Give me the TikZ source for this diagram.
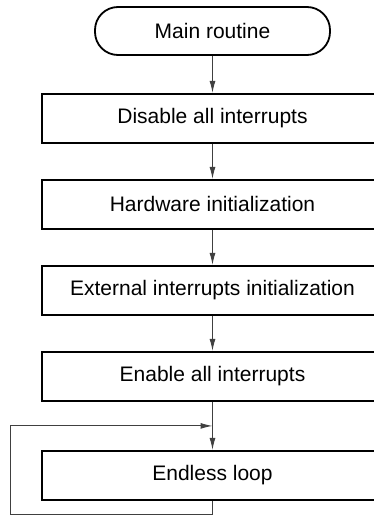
\documentclass[tikz,border=0pt]{standalone}
\usepackage{fontspec}
\setmainfont{Liberation Sans}
\usetikzlibrary{positioning,arrows.meta}

\begin{document}
\begin{tikzpicture}[x=1pt,y=1pt,node distance=35pt,
  flow/.style={-{Latex[length=12pt,width=6pt]},line width=1pt,black!75},
  procbox/.style={rectangle,draw,line width=2pt,
    font=\fontsize{21}{25}\selectfont,minimum height=49pt,minimum width=342pt},
  startbox/.style={rectangle,draw,line width=1.8pt,rounded corners=23pt,
    font=\fontsize{21}{25}\selectfont,minimum height=48pt,minimum width=235pt}]

  \useasboundingbox (0,0) rectangle (374,-516);
  \clip (0,0) rectangle (374,-516);

  \node[startbox] (main) at (212.5,-31) {Main routine};
  \node[procbox] (disable) [below=37pt of main] {Disable all interrupts};
  \node[procbox] (hwinit) [below=of disable] {Hardware initialization};
  \node[procbox] (extinit) [below=of hwinit] {External interrupts initialization};
  \node[procbox] (enable) [below=of extinit] {Enable all interrupts};
  \node[procbox] (endless) [below=48pt of enable] {Endless loop};

  \coordinate (join) at ([yshift=-24pt]enable.south);
  \coordinate (corner) at (10,-514);

  \draw[flow] (main) -- (disable);
  \draw[flow] (disable) -- (hwinit);
  \draw[flow] (hwinit) -- (extinit);
  \draw[flow] (extinit) -- (enable);
  \draw[flow] (enable) -- (endless);
  \draw[flow] (endless.south) -- (endless.south |- corner) -- (corner) |- (join);

\end{tikzpicture}
\end{document}
